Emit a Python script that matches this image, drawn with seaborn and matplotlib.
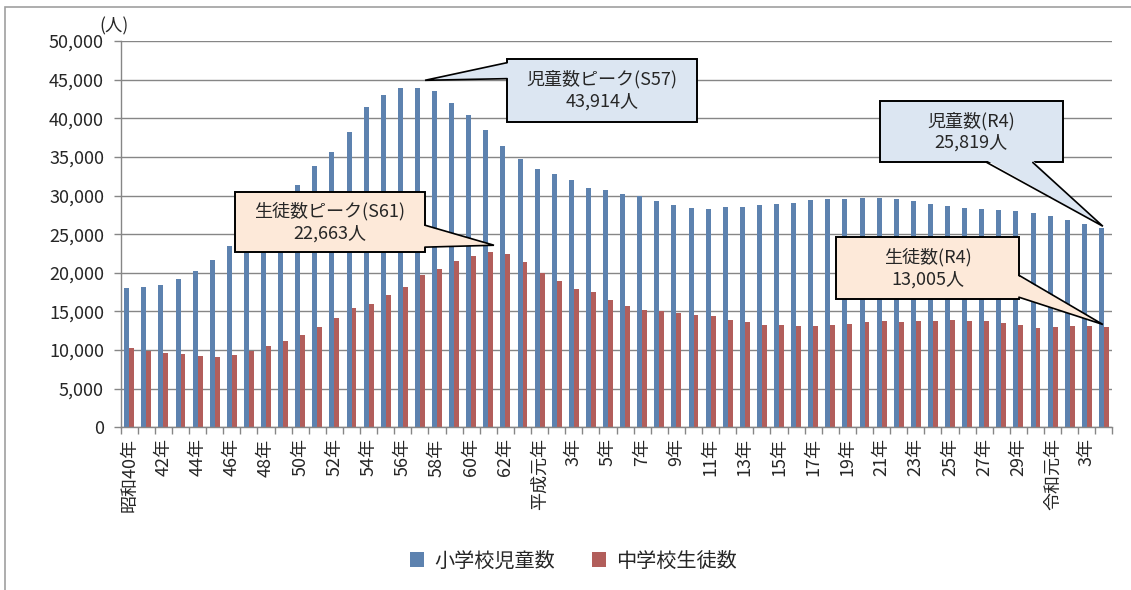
import numpy as np
import matplotlib
matplotlib.use("Agg")
import matplotlib.pyplot as plt
import matplotlib.patches as mpatches
import seaborn as sns
import pandas as pd

# 年度 (昭和40年 = 1965 ～ 令和4年 = 2022)
years = list(range(1965, 2023))

# 小学校児童数
elementary = [
    18000, 18160, 18460, 19150, 20230, 21660, 23430, 25300, 27300, 29300,
    31360, 33780, 35600, 38200, 41460, 43000, 43870, 43914, 43530, 41980,
    40380, 38440, 36370, 34730, 33480, 32790, 31970, 30970, 30670, 30160,
    29980, 29340, 28820, 28430, 28210, 28470, 28500, 28730, 28900, 29080,
    29420, 29550, 29590, 29680, 29680, 29550, 29250, 28900, 28690, 28390,
    28210, 28130, 28000, 27740, 27310, 26830, 26320, 25819,
]

# 中学校生徒数
junior = [
    10220, 9920, 9620, 9450, 9230, 9060, 9360, 9840, 10480, 11170,
    11910, 12990, 14150, 15400, 16000, 17080, 18120, 19760, 20550, 21530,
    22220, 22663, 22390, 21440, 19930, 18900, 17900, 17470, 16440, 15700,
    15140, 15010, 14800, 14580, 14410, 13890, 13590, 13240, 13200, 13070,
    13070, 13240, 13420, 13680, 13720, 13680, 13760, 13720, 13850, 13760,
    13720, 13500, 13240, 12900, 12990, 13070, 13070, 13005,
]

tick_labels = ["昭和40年", "42年", "44年", "46年", "48年", "50年", "52年", "54年",
               "56年", "58年", "60年", "62年", "平成元年", "3年", "5年", "7年",
               "9年", "11年", "13年", "15年", "17年", "19年", "21年", "23年",
               "25年", "27年", "29年", "令和元年", "3年"]

series_names = ["小学校児童数", "中学校生徒数"]
colors = ["#4F81BD", "#C0504D"]

df = pd.DataFrame({
    "year": years * 2,
    "value": elementary + junior,
    "series": [series_names[0]] * len(years) + [series_names[1]] * len(years),
})

sns.set_theme(style="white")
plt.rcParams["font.family"] = ["Noto Sans CJK JP", "DejaVu Sans"]

fig = plt.figure(figsize=(11.31, 5.90), dpi=100)
ax = fig.add_axes([0.1067, 0.2758, 0.9836 - 0.1067, 0.9305 - 0.2758])

sns.barplot(data=df, x="year", y="value", hue="series", palette=colors,
            width=0.58, gap=0, dodge=True, linewidth=0, ax=ax, legend=True)

grid_col = "#868686"
ax.set_ylim(0, 50000)
ax.set_xlim(-0.5, len(years) - 0.5)
ax.set_yticks(np.arange(0, 50001, 5000))
ax.set_yticklabels([f"{v:,}" for v in range(0, 50001, 5000)], fontsize=13)
ax.yaxis.grid(True, color=grid_col, linewidth=1)
ax.set_axisbelow(True)
for s in ["top", "right"]:
    ax.spines[s].set_visible(False)
for s in ["left", "bottom"]:
    ax.spines[s].set_color(grid_col)
    ax.spines[s].set_linewidth(1)
ax.tick_params(axis="y", length=5, width=1, color=grid_col, direction="out", pad=7, left=True)

ax.set_xticks(range(0, len(years), 2))
ax.set_xticklabels(tick_labels, rotation=90, fontsize=13, va="top")
ax.set_xticks(np.arange(-0.5, len(years), 1), minor=True)
ax.tick_params(axis="x", which="major", length=0, pad=8)
ax.tick_params(axis="x", which="minor", length=5, width=1, color=grid_col, bottom=True, direction="out")
ax.set_xlabel("")
ax.set_ylabel("")

fig.text(0.088, 0.955, "(人)", fontsize=12.5, ha="left", va="center")

# 凡例
handles, labels = ax.get_legend_handles_labels()
ax.legend_.remove()
fig.legend(handles, labels, loc="center", bbox_to_anchor=(0.507, 0.049), ncol=2,
           frameon=False, fontsize=14.5, handlelength=0.7, handleheight=0.7,
           handletextpad=0.5, columnspacing=1.8)

# 1 px in data units (x: category, y: 人)
px_x = 1 / 17.1
px_y = 1000 / 7.74


# 吹き出し (box: center, width in categories, height in 人; pointer base on one side)
def callout(text, tip, center, w, h, side, frac, base_px, fc):
    cx, cy = center
    x0, y0 = cx - w / 2, cy - h / 2
    half = base_px / 2
    if side == "left":
        bx, by = x0, y0 + frac * h
        b1, b2 = (bx, by - half * px_y), (bx, by + half * px_y)
        shift = (2 * px_x, 0)
    elif side == "right":
        bx, by = x0 + w, y0 + frac * h
        b1, b2 = (bx, by - half * px_y), (bx, by + half * px_y)
        shift = (-2 * px_x, 0)
    else:
        bx, by = x0 + frac * w, y0
        b1, b2 = (bx - half * px_x, by), (bx + half * px_x, by)
        shift = (0, 2 * px_y)
    ax.add_patch(mpatches.Rectangle((x0, y0), w, h, fc=fc, ec="black", lw=1.4,
                                    zorder=10, clip_on=False))
    b1_in = (b1[0] + shift[0], b1[1] + shift[1])
    b2_in = (b2[0] + shift[0], b2[1] + shift[1])
    ax.add_patch(mpatches.Polygon([b1_in, b2_in, tip], closed=True, fc=fc, ec="none",
                                  zorder=10.5, clip_on=False))
    ax.plot([b1[0], tip[0], b2[0]], [b1[1], tip[1], b2[1]], color="black", lw=1.2,
            zorder=10.6, clip_on=False, solid_joinstyle="miter")
    ax.text(cx, cy, text, ha="center", va="center", fontsize=13,
            linespacing=1.25, zorder=11)


blue_fc = "#DCE6F2"
peach_fc = "#FDE9D9"

i_peak_e = int(np.argmax(elementary))
i_peak_j = int(np.argmax(junior))
i_last = len(years) - 1

callout(f"児童数ピーク(S57)\n{elementary[i_peak_e]:,}人",
        (i_peak_e + 0.3, elementary[i_peak_e] + 1000),
        (27.65, 43640), 11.1, 8140, "left", 0.81, 16, blue_fc)
callout(f"生徒数ピーク(S61)\n{junior[i_peak_j]:,}人",
        (i_peak_j + 0.33, junior[i_peak_j] + 900),
        (11.74, 26520), 11.1, 7750, "right", 0.27, 22, peach_fc)
callout(f"児童数(R4)\n{elementary[i_last]:,}人",
        (i_last - 0.06, elementary[i_last] + 200),
        (49.25, 38280), 10.7, 8010, "bottom", 0.71, 46, blue_fc)
callout(f"生徒数(R4)\n{junior[i_last]:,}人",
        (i_last - 0.06, junior[i_last] + 300),
        (46.68, 20580), 10.7, 8010, "right", 0.21, 22, peach_fc)

# 外枠
fig.patches.append(mpatches.Rectangle((5 / 1131, -0.1), 1.2, (590 - 7) / 590 + 0.1,
                                      transform=fig.transFigure, fill=False,
                                      ec="#A0A0A0", lw=1.2))

fig.savefig("out.png", dpi=100)
